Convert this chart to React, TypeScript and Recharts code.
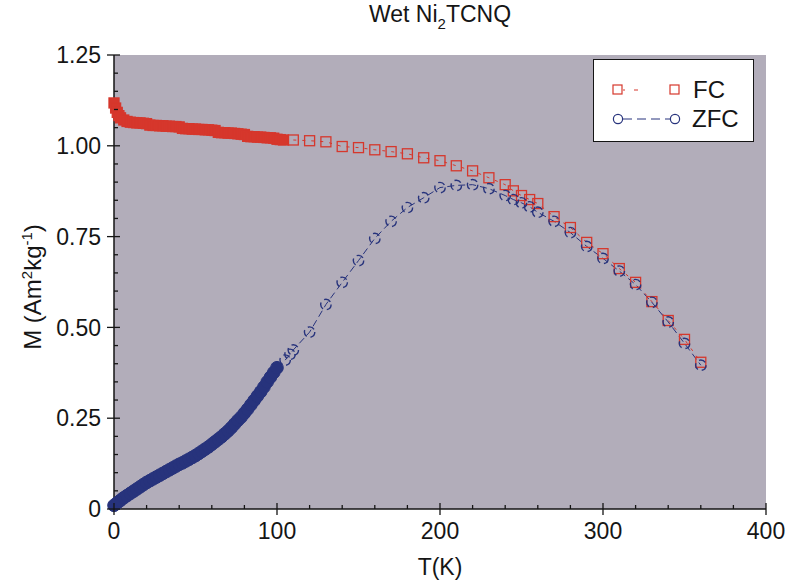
import React from "react";
import { ComposedChart, Line, XAxis, YAxis, CartesianGrid, Legend, Label } from "recharts";

const FONT = '"Liberation Sans", Arial, sans-serif';
const RED = "#d6372c";
const NAVY = "#27337c";
const BG = "#b2adba";
const INK = "#151515";

// dense low-temperature part of the sweeps
const fcLowT = [0, 1, 2, 3, 4, 6, 8, 10, 12, 14, 16, 18, 20, 22, 24, 26, 28, 30, 32, 34, 36, 38, 40, 42, 44, 46, 48, 50,
  52, 54, 56, 58, 60, 62, 64, 66, 68, 70, 72, 74, 76, 78, 80, 82, 84, 86, 88, 90, 92, 94, 96, 98, 100, 102, 104];
const fcLowM = [1.118, 1.104, 1.092, 1.083, 1.077, 1.071, 1.067, 1.065, 1.064, 1.063, 1.063, 1.062, 1.061, 1.057,
  1.056, 1.056, 1.055, 1.055, 1.054, 1.054, 1.053, 1.053, 1.052, 1.048, 1.047, 1.047, 1.046, 1.046, 1.045, 1.045,
  1.044, 1.044, 1.043, 1.042, 1.037, 1.036, 1.036, 1.035, 1.035, 1.034, 1.033, 1.032, 1.031, 1.026, 1.025, 1.025,
  1.024, 1.024, 1.023, 1.022, 1.022, 1.021, 1.018, 1.017, 1.016];

const zfcLowT = [0, 2, 4, 6, 8, 10, 12, 14, 16, 18, 20, 22, 24, 26, 28, 30, 32, 34, 36, 38, 40, 42, 44, 46, 48, 50,
  52, 54, 56, 58, 60, 62, 64, 66, 68, 70, 72, 74, 76, 78, 80, 82, 84, 86, 88, 90, 92, 94, 96, 98, 100];
const zfcLowM = [0.010, 0.017, 0.024, 0.031, 0.037, 0.043, 0.049, 0.055, 0.061, 0.067, 0.073, 0.078, 0.083, 0.088,
  0.093, 0.098, 0.103, 0.108, 0.113, 0.118, 0.123, 0.127, 0.132, 0.137, 0.142, 0.147, 0.153, 0.159, 0.165, 0.171,
  0.178, 0.185, 0.192, 0.199, 0.207, 0.215, 0.224, 0.234, 0.244, 0.253, 0.264, 0.275, 0.287, 0.299, 0.311, 0.323,
  0.336, 0.350, 0.363, 0.376, 0.389];

// sparse higher-temperature points
const fcT = [110, 120, 130, 140, 150, 160, 170, 180, 190, 200, 210, 220, 230, 240, 245, 250, 255, 260, 270, 280, 290,
  300, 310, 320, 330, 340, 350, 360];
const fcM = [1.016, 1.014, 1.011, 0.998, 0.995, 0.989, 0.984, 0.978, 0.967, 0.959, 0.945, 0.931, 0.912, 0.893, 0.876,
  0.863, 0.852, 0.841, 0.805, 0.775, 0.734, 0.703, 0.662, 0.624, 0.571, 0.519, 0.467, 0.404];

const zfcT = [105, 108, 110, 120, 130, 140, 150, 160, 170, 180, 190, 200, 210, 220, 230, 240, 245, 250, 255, 260, 270,
  280, 290, 300, 310, 320, 330, 340, 350, 360];
const zfcM = [0.410, 0.426, 0.438, 0.487, 0.563, 0.624, 0.684, 0.745, 0.792, 0.830, 0.857, 0.885, 0.891, 0.893, 0.882,
  0.863, 0.852, 0.843, 0.832, 0.817, 0.792, 0.761, 0.723, 0.690, 0.655, 0.618, 0.569, 0.515, 0.456, 0.396];

const xMajor = [0, 100, 200, 300, 400];
const xMinor = [20, 40, 60, 80, 120, 140, 160, 180, 220, 240, 260, 280, 320, 340, 360, 380];
const yMajor = [0, 0.25, 0.5, 0.75, 1, 1.25];
const yMajorLabels = ["0", "0.25", "0.50", "0.75", "1.00", "1.25"];
const yMinor = [0.05, 0.1, 0.15, 0.2, 0.3, 0.35, 0.4, 0.45, 0.55, 0.6, 0.65, 0.7, 0.8, 0.85, 0.9, 0.95, 1.05, 1.1, 1.15, 1.2];

const pts = (ts: number[], ms: number[]) => ts.map((t, i) => ({ t, m: ms[i] }));
const majorIdx = (v: number, list: number[]) => list.findIndex((m) => Math.abs(m - v) < 1e-6);

const txt = { fontFamily: FONT, fontSize: 23, fill: INK };

function makeTick(side: "left" | "right" | "top" | "bottom") {
  return (p: any) => {
    const { x, y, payload } = p;
    const v = payload.value;
    const vertical = side === "left" || side === "right";
    const mi = majorIdx(v, vertical ? yMajor : xMajor);
    const major = mi >= 0;
    let line;
    if (side === "left") line = <line x1={major ? x - 7 : x} x2={x + (major ? 6 : 4)} y1={y} y2={y} />;
    else if (side === "right") line = <line x1={x - (major ? 6 : 4)} x2={major ? x + 6 : x} y1={y} y2={y} />;
    else if (side === "bottom") line = <line y1={y - (major ? 6 : 4)} y2={major ? y + 6 : y} x1={x} x2={x} />;
    else line = <line y1={major ? y - 6 : y} y2={y + (major ? 6 : 4)} x1={x} x2={x} />;
    return (
      <g stroke={INK} strokeWidth={1.3}>
        {line}
        {major && side === "left" && (
          <text x={x - 13} y={y} dy="0.36em" textAnchor="end" stroke="none" {...txt}>{yMajorLabels[mi]}</text>
        )}
        {major && side === "bottom" && (
          <text x={x} y={y + 30} textAnchor="middle" stroke="none" {...txt}>{v}</text>
        )}
      </g>
    );
  };
}

const squareDot = (size: number, filled: boolean) => (p: any) => {
  const { cx, cy, index } = p;
  if (cx == null || cy == null) return <g key={index} />;
  return (
    <rect key={index} x={cx - size / 2} y={cy - size / 2} width={size} height={size}
      fill={filled ? RED : "none"} stroke={RED} strokeWidth={1.3} />
  );
};

// y-axis title plus the chart title (the top axis has no room for a label)
const YLabel = (p: any) => {
  const cx = 32, cy = 287;
  return (
    <g>
      <text x={440} y={22} textAnchor="middle" {...txt}>
        Wet Ni<tspan fontSize={15} dy={7}>2</tspan><tspan dy={-7}>TCNQ</tspan>
      </text>
      <text x={cx} y={cy} dy="0.36em" textAnchor="middle" transform={`rotate(-90 ${cx} ${cy})`} {...txt} fontSize={24}>
        M (Am<tspan fontSize={15} dy={-9}>2</tspan><tspan dy={9}>kg</tspan>
        <tspan fontSize={15} dy={-9}>-1</tspan><tspan dy={9}>)</tspan>
      </text>
    </g>
  );
};

const XLabel = (p: any) => {
  const vb = p.viewBox;
  return <text x={vb.x + vb.width / 2} y={vb.y + 66} textAnchor="middle" {...txt}>T(K)</text>;
};

const LegendBox = () => (
  <svg width={161} height={83} style={{ display: "block", background: "#fff", border: `1.5px solid ${INK}`, boxSizing: "border-box" }}>
    <line x1={29} x2={76} y1={30} y2={30} stroke={RED} strokeWidth={1} strokeDasharray="2 9 4 40" />
    <rect x={19} y={25} width={9} height={9} fill="none" stroke={RED} strokeWidth={1.2} />
    <rect x={76} y={25} width={9} height={9} fill="none" stroke={RED} strokeWidth={1.2} />
    <text x={99} y={38} {...txt} fontSize={24}>FC</text>
    <line x1={29} x2={76} y1={59} y2={59} stroke={NAVY} strokeWidth={1} strokeDasharray="9 5" />
    <circle cx={24} cy={59} r={4.6} fill="none" stroke={NAVY} strokeWidth={1.2} />
    <circle cx={81} cy={59} r={4.6} fill="none" stroke={NAVY} strokeWidth={1.2} />
    <text x={98} y={67} {...txt} fontSize={24}>ZFC</text>
  </svg>
);

export default function App() {
  const axisLine = { stroke: INK, strokeWidth: 1.5 };
  return (
    <div style={{ position: "absolute", left: 0, top: 0, background: "#fff" }}>
      <ComposedChart width={789} height={584} margin={{ top: 55, right: 23, bottom: 0, left: 0 }}>
        <CartesianGrid xAxisId="b" yAxisId="l" fill={BG} horizontal={false} vertical={false} stroke="none" />
        <XAxis xAxisId="b" dataKey="t" type="number" domain={[0, 400]} ticks={[...xMajor, ...xMinor]} interval={0}
          height={75} tickSize={0} tickMargin={0} tickLine={false} axisLine={axisLine} tick={makeTick("bottom")}>
          <Label content={XLabel} />
        </XAxis>
        <XAxis xAxisId="t" orientation="top" type="number" domain={[0, 400]} ticks={[...xMajor, ...xMinor]} interval={0}
          height={0} tickSize={0} tickMargin={0} tickLine={false} axisLine={axisLine} tick={makeTick("top")} />
        <YAxis yAxisId="l" type="number" domain={[0, 1.25]} ticks={[...yMajor, ...yMinor]} interval={0}
          width={114} tickSize={0} tickMargin={0} tickLine={false} axisLine={axisLine} tick={makeTick("left")}>
          <Label content={YLabel} />
        </YAxis>
        <YAxis yAxisId="r" orientation="right" type="number" domain={[0, 1.25]} ticks={[...yMajor, ...yMinor]} interval={0}
          width={0} tickSize={0} tickMargin={0} tickLine={false} axisLine={axisLine} tick={makeTick("right")} />

        <Line xAxisId="b" yAxisId="l" data={pts(fcLowT, fcLowM)} dataKey="m" type="linear" stroke={RED} strokeWidth={1}
          dot={squareDot(10, true)} activeDot={false} legendType="none" isAnimationActive={false} />
        <Line xAxisId="b" yAxisId="l" data={pts(fcT, fcM)} dataKey="m" type="linear" stroke={RED} strokeWidth={1}
          strokeDasharray="3 6" dot={squareDot(10, false)} activeDot={false} name="FC" isAnimationActive={false} />
        <Line xAxisId="b" yAxisId="l" data={pts(zfcLowT, zfcLowM)} dataKey="m" type="linear" stroke={NAVY} strokeWidth={1}
          dot={{ r: 6.3, fill: NAVY, stroke: NAVY, strokeWidth: 1 }} activeDot={false} legendType="none" isAnimationActive={false} />
        <Line xAxisId="b" yAxisId="l" data={pts(zfcT, zfcM)} dataKey="m" type="linear" stroke={NAVY} strokeWidth={1}
          strokeDasharray="7 4" dot={{ r: 5.2, fill: "none", stroke: NAVY, strokeWidth: 1.4 }} activeDot={false}
          name="ZFC" isAnimationActive={false} />

        <Legend layout="vertical" align="center" verticalAlign="middle" content={() => <LegendBox />}
          wrapperStyle={{ left: 593, top: 59, width: 161, height: 83 }} />
      </ComposedChart>
    </div>
  );
}
